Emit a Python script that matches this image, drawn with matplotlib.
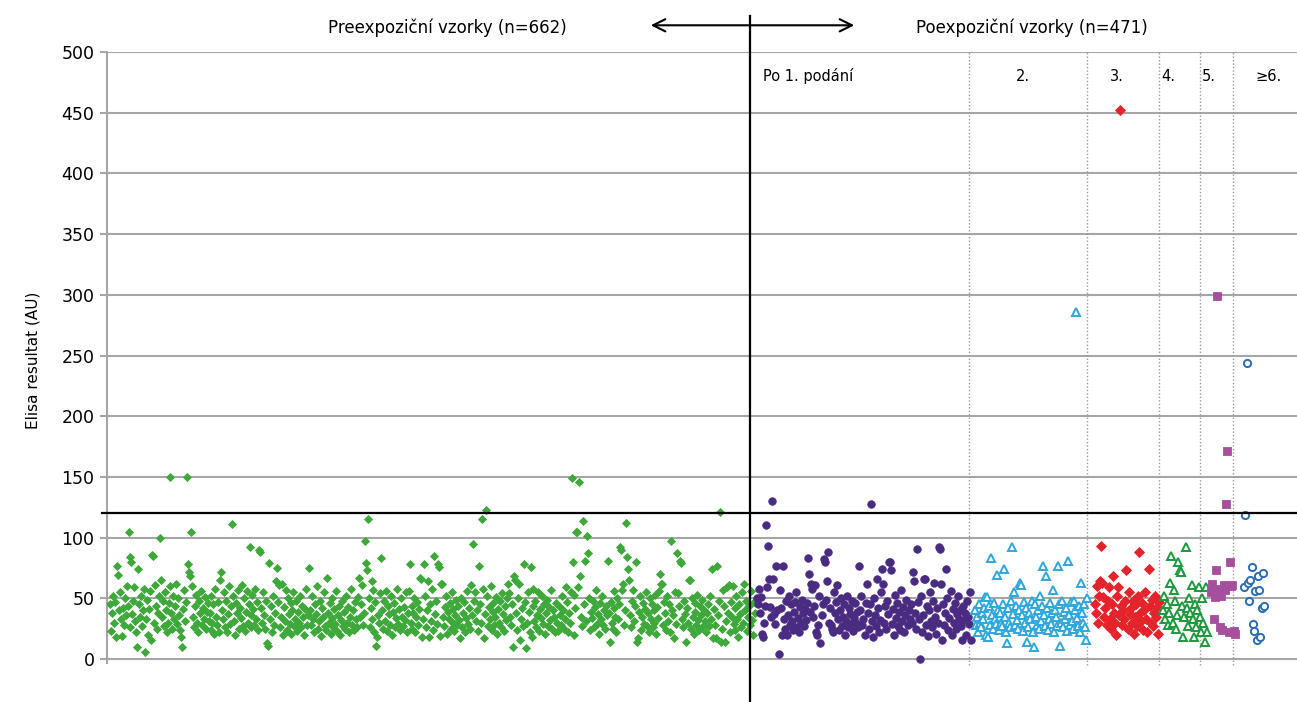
import numpy as np
import matplotlib
matplotlib.use('Agg')
import matplotlib.pyplot as plt

plt.rcParams['font.family'] = ['Liberation Sans Narrow', 'DejaVu Sans']

# Preexpoziční vzorky (n=662), hodnoty v pořadí vzorků
pre = [
    45, 23, 38, 52, 30, 47, 18, 77, 69, 40, 55, 33, 19, 42, 28, 50, 36, 60, 44, 105,
    26, 84, 80, 37, 48, 59, 31, 22, 10, 74, 45, 35, 52, 27, 40, 58, 6, 33, 49, 20,
    41, 56, 16, 86, 85, 30, 61, 44, 25, 38, 52,
    100, 65, 35, 48, 27, 55, 40, 22, 30, 46, 150, 60, 38, 25, 52, 33, 44, 62, 29, 50,
    36, 24, 18, 10, 41, 57, 31, 47, 150, 78, 72, 68, 105, 60, 35, 26, 44, 53, 30, 22,
    48, 38, 56, 28, 42, 33, 51, 25, 39, 46, 31,
    38, 24, 52, 30, 45, 21, 58, 35, 28, 47, 22, 65, 72, 40, 33, 55, 26, 48, 22, 37,
    60, 29, 44, 111, 52, 31, 20, 46, 38, 57, 25, 42, 34, 61, 27, 50, 23, 39, 56, 30,
    45, 92, 36, 26, 53, 41, 28, 58, 33, 47, 24,
    90, 88, 42, 30, 55, 36, 25, 48, 13, 11, 79, 33, 44, 22, 52, 28, 38, 64, 75, 47,
    61, 26, 35, 62, 20, 43, 31, 57, 24, 50, 37, 29, 46, 21, 40, 55, 27, 33, 48, 23,
    39, 30, 52, 26, 44, 35, 20, 41, 58, 28, 36,
    75, 40, 28, 52, 33, 22, 45, 37, 60, 25, 31, 48, 19, 42, 35, 55, 27, 24, 67, 38,
    30, 46, 21, 34, 50, 26, 41, 29, 56, 23, 36, 44, 20, 32, 48, 27, 39, 25, 52, 30,
    43, 22, 35, 58, 28, 40, 24, 47, 33, 26, 51,
    67, 35, 45, 61, 28, 38, 97, 79, 73, 115, 50, 26, 42, 33, 64, 57, 22, 47, 11, 18,
    36, 30, 54, 83, 40, 25, 48, 31, 56, 23, 44, 37, 28, 52, 20, 39, 46, 26, 34, 58,
    29, 41, 24, 50, 35, 27, 43, 32, 55, 22, 38,
    56, 78, 30, 44, 25, 38, 50, 22, 35, 47, 28, 41, 67, 66, 18, 33, 78, 52, 26, 40,
    64, 18, 45, 31, 58, 24, 85, 37, 48, 29, 78, 76, 19, 62, 62, 35, 27, 43, 52, 21,
    39, 33, 46, 25, 55, 30, 41, 23, 36, 49, 28,
    44, 32, 17, 50, 26, 38, 47, 22, 34, 56, 29, 42, 25, 61, 36, 95, 48, 55, 31, 40,
    23, 77, 45, 30, 115, 58, 17, 37, 123, 52, 27, 43, 33, 60, 24, 39, 46, 28, 35, 51,
    21, 41, 30, 48, 26, 54, 37, 23, 44, 32, 50,
    62, 54, 35, 28, 45, 10, 68, 65, 38, 24, 50, 62, 16, 33, 42, 27, 78, 47, 9, 30,
    55, 39, 22, 76, 18, 44, 58, 31, 48, 26, 36, 55, 23, 41, 34, 52, 29, 45, 21, 38,
    49, 27, 43, 32, 57, 25, 40, 35, 22, 46, 30,
    23, 44, 36, 28, 52, 40, 25, 33, 59, 47, 22, 38, 30, 55, 149, 80, 20, 53, 42, 105,
    105, 59, 146, 68, 35, 27, 114, 45, 81, 31, 101, 87, 50, 24, 39, 34, 48, 26, 43, 57,
    29, 37, 21, 46, 33, 52, 28, 40, 25, 44, 36,
    81, 38, 14, 47, 30, 25, 56, 42, 35, 22, 50, 33, 45, 92, 90, 57, 62, 28, 40, 112,
    84, 74, 65, 36, 26, 48, 57, 31, 44, 80, 14, 17, 39, 52, 24, 35, 46, 29, 41, 55,
    27, 38, 22, 50, 33, 45, 26, 40, 30, 53, 21,
    43, 34, 56, 70, 62, 62, 28, 47, 38, 24, 52, 31, 45, 22, 97, 40, 36, 17, 55, 29,
    87, 54, 44, 81, 79, 33, 26, 48, 37, 14, 42, 30, 65, 65, 25, 50, 35, 21, 46, 39,
    28, 53, 32, 24, 44, 36, 49, 27, 40, 31, 22,
    38, 45, 27, 52, 33, 74, 17, 41, 28, 17, 77, 36, 48, 121, 14, 25, 57, 44, 14, 31,
    59, 38, 61, 22, 47, 35, 60, 29, 42, 24, 52, 33, 18, 45, 37, 26, 55, 30, 62, 40,
    48, 23, 35, 44, 28, 56, 32, 20, 47, 38,
]

# Poexpoziční vzorky podle počtu podání
po1 = [
    50, 45, 58, 38, 51, 21, 18, 30, 44, 110, 59, 93, 66, 43, 35, 130, 66, 37, 29, 77,
    40, 4, 57, 42, 20, 77, 33, 25, 48, 20, 36, 52, 28, 45, 31, 24, 39, 47, 55, 26,
    34, 22, 43, 30, 49, 38, 27, 41, 32, 46,
    83, 70, 39, 62, 58, 35, 44, 61, 22, 20, 28, 52, 13, 36, 45, 82, 80, 49, 64, 88,
    30, 42, 28, 25, 22, 55, 38, 47, 61, 33, 24, 40, 50, 27, 35, 45, 20, 31, 52, 26,
    42, 37, 29, 48, 23, 34, 46, 30, 39, 26,
    77, 40, 52, 28, 33, 20, 46, 62, 38, 25, 45, 128, 31, 18, 50, 36, 27, 66, 42, 22,
    32, 55, 74, 62, 30, 44, 25, 48, 37, 80, 80, 73, 29, 41, 20, 53, 34, 46, 27, 39,
    24, 57, 31, 43, 22, 36, 49, 28, 40, 33,
    45, 30, 72, 64, 38, 25, 91, 47, 33, 0, 52, 22, 36, 66, 66, 28, 44, 19, 40, 55,
    31, 26, 48, 63, 35, 21, 42, 30, 92, 91, 62, 16, 45, 28, 38, 74, 50, 24, 34, 56,
    20, 41, 30, 46, 25, 37, 52, 33, 40, 27, 16, 44, 32, 38, 20, 48, 35, 29, 55, 16,
]
po2 = [
    40, 28, 35, 22, 45, 30, 26, 38, 33, 42, 51, 20, 51, 18, 44, 28, 83, 36, 25, 46,
    33, 29, 69, 40, 24, 38, 30, 27, 45, 74, 35, 22, 13, 42, 30, 26, 48, 92, 37, 55,
    28, 44, 32, 25, 40, 63, 61, 36, 23, 47, 30, 42, 14, 26, 38, 33, 48, 22, 10, 45,
    35, 28, 40, 25, 52, 31, 44, 77, 36, 27, 68, 42, 24, 33, 46, 29, 38, 57, 22, 40,
    35, 27, 77, 45, 11, 30, 48, 26, 39, 33, 42, 23, 81, 36, 28, 47, 31, 25, 48, 40,
    286, 34, 27, 44, 22, 63, 38, 30, 45, 26, 16, 50,
]
po3 = [
    45, 38, 60, 30, 52, 64, 93, 63, 51, 35, 42, 28, 48, 59, 33, 25, 45, 68, 38, 30,
    20, 52, 59, 36, 452, 44, 28, 40, 33, 48, 73, 25, 55, 37, 42, 30, 48, 21, 35, 45,
    27, 52, 88, 38, 31, 46, 24, 40, 55, 33, 22, 74, 44, 30, 49, 27, 38, 52, 35, 43,
    21, 47,
]
po4 = [40, 52, 33, 45, 28, 38, 63, 85, 30, 57, 48, 25, 36, 80, 73, 72, 44, 18, 35, 92,
       42, 27, 50, 38, 61, 33, 18, 45, 26, 40, 59, 35, 22, 50, 30, 14, 59, 22]
po5 = [55, 62, 33, 51, 73, 299, 58, 26, 52, 24, 61, 57, 128, 171, 22, 80, 60, 61, 23, 21]
po6 = [59, 119, 244, 63, 48, 65, 76, 29, 23, 56, 16, 68, 57, 18, 42, 71, 44]

limit = 120
y_ticks = np.arange(0, 501, 50)

fig = plt.figure(figsize=(12.97, 7.02), dpi=100)
ax = fig.add_axes([107 / 1297, 0, 1190 / 1297, 650 / 702])
ax.set_xlim(0, 1190)
ax.set_ylim(-35.4, 500)

grey = '#a6a6a6'
for s in ['top', 'right', 'bottom']:
    ax.spines[s].set_visible(False)
ax.spines['left'].set_color(grey)
ax.spines['left'].set_linewidth(1.5)
ax.spines['left'].set_bounds(-3, 500)
ax.set_yticks(y_ticks)
ax.set_xticks([])
ax.tick_params(axis='y', length=5, width=1.5, color=grey, labelsize=12.5, pad=4)
ax.yaxis.grid(True, color=grey, lw=1.5)
ax.set_axisbelow(True)

# skupiny: (hodnoty, rozsah x, marker, barva, plny, velikost)
groups = [
    (pre, (3, 648), 'D', '#3ea83a', True, 4.2),
    (po1, (650, 864), 'o', '#4a2b82', True, 5.4),
    (po2, (868, 980), '^', '#2ea7dd', False, 5.2),
    (po3, (988, 1052), 'D', '#e4232a', True, 4.6),
    (po4, (1056, 1100), '^', '#1b9a3b', False, 5.2),
    (po5, (1104, 1128), 's', '#a64f9f', True, 5.2),
    (po6, (1137, 1157), 'o', '#2b6cb3', False, 5.2),
]
for vals, (x0, x1), m, c, filled, ms in groups:
    x = np.linspace(x0, x1, len(vals))
    if filled:
        ax.plot(x, vals, m, color=c, ms=ms, mec=c, mew=0.6, zorder=3)
    else:
        ax.plot(x, vals, m, mfc='white', mec=c, ms=ms, mew=1.4, zorder=3)

# oddělení skupin
ax.vlines([862, 980, 1052, 1093, 1126], -5, 500, colors='#9a9a9a',
          linestyles=(0, (1, 1.5)), lw=1, zorder=2)
ax.plot([-5, 1190], [limit, limit], color='k', lw=1.6, clip_on=False, zorder=4)
ax.plot([643, 643], [-40, 530], color='k', lw=1.6, clip_on=False, zorder=4)
ax.annotate('', xy=(541, 522), xytext=(750, 522), xycoords='data',
            arrowprops=dict(arrowstyle='<->', lw=1.5, color='k',
                            mutation_scale=22), annotation_clip=False)

ax.text(340, 520, 'Preexpoziční vzorky (n=662)', ha='center', va='center', fontsize=12)
ax.text(925, 520, 'Poexpoziční vzorky (n=471)', ha='center', va='center', fontsize=12)

ax.text(656, 480, 'Po 1. podání', ha='left', va='center', fontsize=10.5)
for xl, t in [(916, '2.'), (1010, '3.'), (1061, '4.'), (1102, '5.'), (1162, '≥6.')]:
    ax.text(xl, 480, t, ha='center', va='center', fontsize=10.5)

fig.text(33 / 1297, 1 - 360 / 702, 'Elisa resultat (AU)', rotation=90,
         ha='center', va='center', fontsize=11)

fig.savefig('out.png', dpi=100)
